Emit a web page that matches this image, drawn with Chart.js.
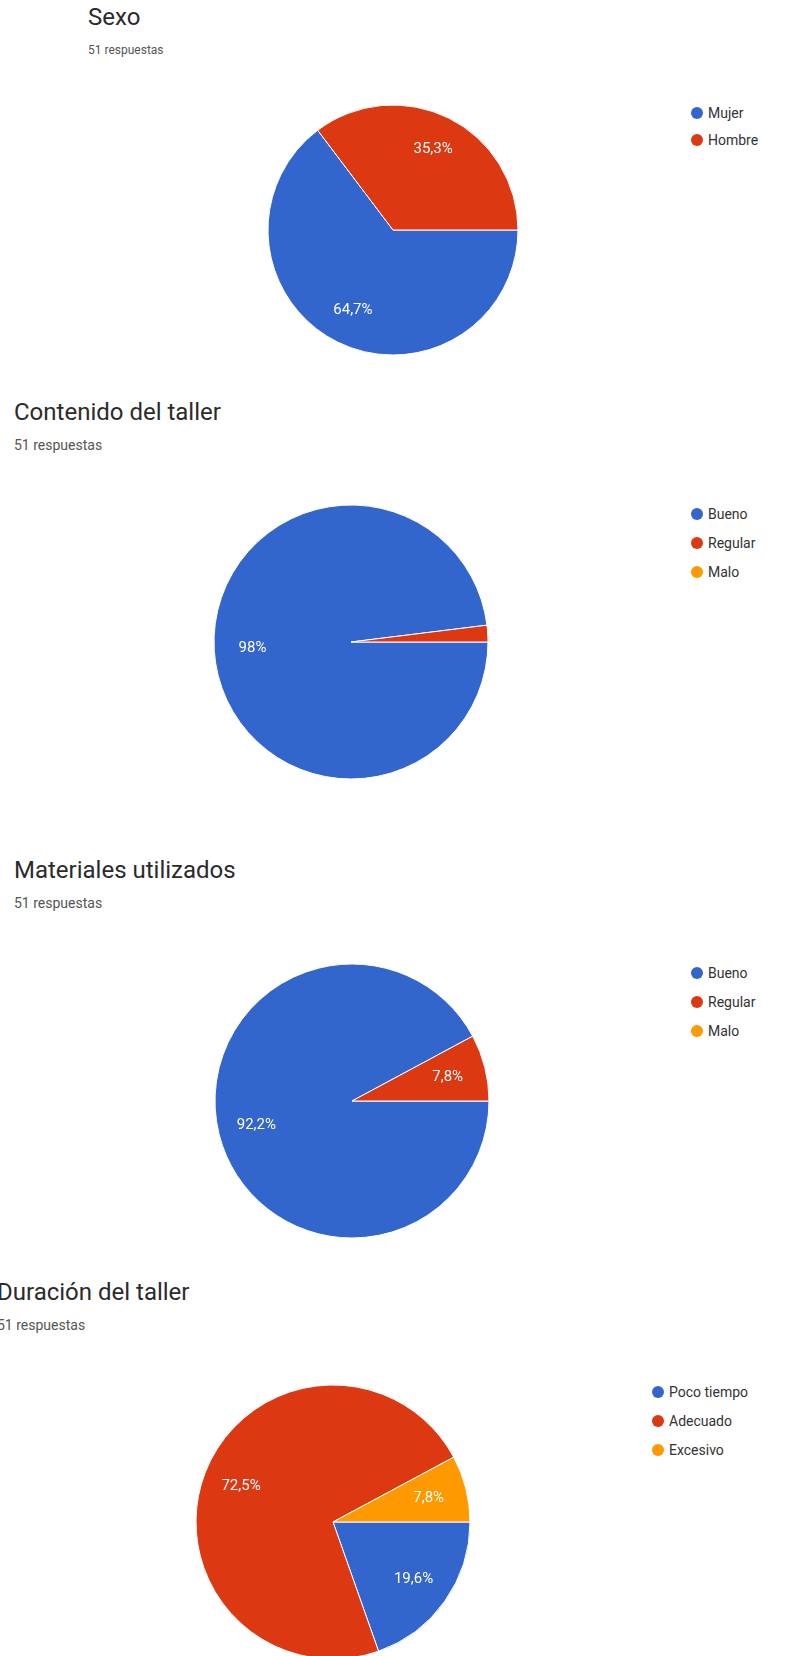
<!DOCTYPE html>
<html lang="es">
<head>
<meta charset="utf-8">
<title>Resumen de respuestas</title>
<script src="https://cdn.jsdelivr.net/npm/chart.js@4/dist/chart.umd.min.js"></script>
<style>
    html, body {
        margin: 0;
        padding: 0;
        background: #fff;
    }
    body {
        position: relative;
        width: 804px;
        height: 1656px;
        overflow: hidden;
        font-family: Roboto, "Noto Sans", Arial, sans-serif;
    }
    .titulo {
        position: absolute;
        font-size: 24px;
        line-height: 28px;
        color: #2b2b2b;
        white-space: nowrap;
    }
    .sub {
        position: absolute;
        font-size: 14px;
        line-height: 18px;
        color: #555;
        white-space: nowrap;
    }
    .pie {
        position: absolute;
    }
    .leyenda {
        position: absolute;
        font-size: 14px;
        color: #333;
        white-space: nowrap;
    }
    .leyenda div {
        display: flex;
        align-items: center;
    }
    .leyenda span.dot {
        display: inline-block;
        width: 12px;
        height: 12px;
        border-radius: 50%;
        margin-right: 5px;
    }
</style>
</head>
<body>

<script>
// --- Daten ---
const sexoLabels = ["Mujer", "Hombre"];
const sexoValues = [33, 18];

const contenidoLabels = ["Bueno", "Regular", "Malo"];
const contenidoValues = [50, 1, 0];

const materialesLabels = ["Bueno", "Regular", "Malo"];
const materialesValues = [47, 4, 0];

const duracionLabels = ["Poco tiempo", "Adecuado", "Excesivo"];
const duracionValues = [10, 37, 4];

const respuestas = "51 respuestas";
const colores = ["#3366CC", "#DC3912", "#FF9900"];

// --- Layout (px) ---
const graficos = [
    { titulo: "Sexo", labels: sexoLabels, values: sexoValues, subSize: 12,
      tx: 88, ty: 3, sy: 41, cx: 393, cy: 230, r: 125, lx: 691, ly: 99, lh: 27 },
    { titulo: "Contenido del taller", labels: contenidoLabels, values: contenidoValues, subSize: 14,
      tx: 14, ty: 398, sy: 436, cx: 351, cy: 642, r: 137, lx: 691, ly: 499, lh: 29 },
    { titulo: "Materiales utilizados", labels: materialesLabels, values: materialesValues, subSize: 14,
      tx: 14, ty: 856, sy: 894, cx: 352, cy: 1101, r: 137, lx: 691, ly: 958, lh: 29 },
    { titulo: "Duración del taller", labels: duracionLabels, values: duracionValues, subSize: 14,
      tx: -3, ty: 1278, sy: 1316, cx: 333, cy: 1522, r: 137, lx: 652, ly: 1377, lh: 29 },
];

// Prozent-Beschriftung in den Segmenten (Komma als Dezimaltrenner)
const pctLabels = {
    id: "pctLabels",
    afterDatasetsDraw(chart) {
        const ctx = chart.ctx;
        const data = chart.data.datasets[0].data;
        const total = data.reduce((a, b) => a + b, 0);
        const meta = chart.getDatasetMeta(0);
        ctx.save();
        ctx.fillStyle = "#fff";
        ctx.font = "15px Roboto, sans-serif";
        ctx.textAlign = "center";
        ctx.textBaseline = "middle";
        meta.data.forEach((arc, i) => {
            const pct = data[i] / total * 100;
            if (pct < 5) return;
            const p = arc.getProps(["x", "y", "startAngle", "endAngle", "outerRadius"], true);
            const mid = (p.startAngle + p.endAngle) / 2;
            const d = p.outerRadius * 0.72;
            let txt = (Math.round(pct * 10) / 10).toFixed(1).replace(/\.0$/, "").replace(".", ",") + "%";
            ctx.fillText(txt, p.x + Math.cos(mid) * d, p.y + Math.sin(mid) * d);
        });
        ctx.restore();
    },
};

graficos.forEach((g) => {
    const t = document.createElement("div");
    t.className = "titulo";
    t.style.left = g.tx + "px";
    t.style.top = g.ty + "px";
    t.textContent = g.titulo;
    document.body.appendChild(t);

    const s = document.createElement("div");
    s.className = "sub";
    s.style.left = g.tx + "px";
    s.style.top = g.sy + "px";
    s.style.fontSize = g.subSize + "px";
    s.textContent = respuestas;
    document.body.appendChild(s);

    const size = 2 * g.r + 20;
    const c = document.createElement("canvas");
    c.className = "pie";
    c.width = size;
    c.height = size;
    c.style.left = (g.cx - size / 2) + "px";
    c.style.top = (g.cy - size / 2) + "px";
    document.body.appendChild(c);

    new Chart(c.getContext("2d"), {
        type: "pie",
        data: {
            labels: g.labels,
            datasets: [{
                data: g.values,
                backgroundColor: colores,
                borderColor: "#fff",
                borderWidth: 1,
            }],
        },
        options: {
            responsive: false,
            animation: false,
            rotation: 90,
            radius: g.r,
            layout: { padding: 0 },
            plugins: {
                legend: { display: false },
                tooltip: { enabled: false },
            },
        },
        plugins: [pctLabels],
    });

    const l = document.createElement("div");
    l.className = "leyenda";
    l.style.left = g.lx + "px";
    l.style.top = g.ly + "px";
    g.labels.forEach((lab, i) => {
        const row = document.createElement("div");
        row.style.height = g.lh + "px";
        const dot = document.createElement("span");
        dot.className = "dot";
        dot.style.background = colores[i];
        row.appendChild(dot);
        row.appendChild(document.createTextNode(lab));
        l.appendChild(row);
    });
    document.body.appendChild(l);
});
</script>
</body>
</html>
